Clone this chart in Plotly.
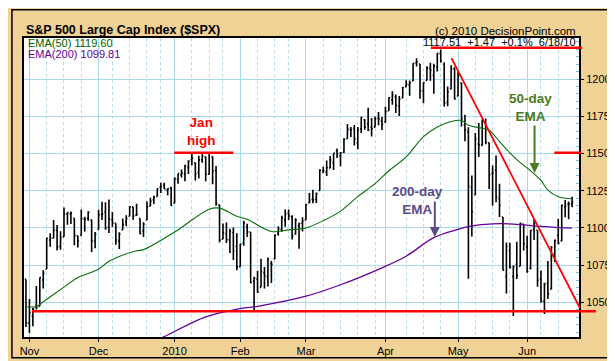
import plotly.graph_objects as go
import pandas as pd

# ---------------- data ----------------
holidays = ["2009-11-26", "2009-12-25", "2010-01-01", "2010-01-18",
            "2010-02-15", "2010-04-02", "2010-05-31"]
dates = [d for d in pd.bdate_range("2009-10-30", "2010-06-18")
         if d.strftime("%Y-%m-%d") not in holidays]

opens = [1065.41,
    1036.18, 1040.92, 1047.30, 1047.30, 1064.95, 1072.31, 1091.86, 1093.01, 1098.31, 1087.59,
    1094.13, 1109.22, 1109.44, 1106.44, 1094.66, 1094.86, 1105.83, 1106.49, 1105.47, 1091.07,
    1098.89, 1109.03, 1110.59, 1100.43, 1105.52, 1103.04, 1091.07, 1098.69, 1103.96, 1107.84,
    1114.11, 1108.61, 1106.36, 1097.86, 1105.31, 1114.51, 1118.84, 1121.08, 1127.53, 1128.55,
    1125.53, 1126.60,
    1116.56, 1132.66, 1135.71, 1136.27, 1140.52, 1145.96, 1143.81, 1137.31, 1145.68, 1147.72,
    1136.03, 1147.95, 1138.68, 1115.49, 1092.40, 1095.80, 1091.94, 1096.93, 1087.61,
    1073.89, 1090.05, 1100.67, 1097.25, 1064.12, 1065.51, 1060.06, 1069.68, 1067.10, 1075.95,
    1079.13, 1096.14, 1099.03, 1105.49, 1110.00, 1107.49, 1095.89, 1101.24, 1103.10,
    1105.36, 1117.01, 1119.36, 1119.12, 1125.12, 1138.40, 1137.56, 1140.22, 1143.96, 1151.71,
    1148.53, 1150.83, 1159.94, 1166.13, 1166.68, 1157.25, 1166.47, 1172.70, 1170.03, 1167.58,
    1167.71, 1173.75, 1171.75,
    1171.23, 1178.71, 1186.01, 1188.23, 1181.75, 1187.47, 1194.94, 1195.94, 1198.69, 1210.77,
    1210.17, 1192.06, 1199.04, 1207.16, 1202.52, 1207.87, 1217.07, 1209.92, 1184.59, 1193.30,
    1206.77,
    1188.58, 1197.50, 1169.24, 1164.38, 1127.04, 1122.27, 1156.39, 1155.43, 1170.04, 1157.19,
    1136.52, 1138.78, 1119.57, 1107.34, 1067.26, 1084.78, 1067.42, 1075.51, 1074.27, 1102.59,
    1087.30, 1073.01, 1098.82, 1098.43, 1065.84, 1050.81, 1062.75, 1058.77, 1082.65, 1095.00,
    1091.21, 1114.02, 1115.98, 1116.16]

highs = [1065.41,
    1052.18, 1046.36, 1061.00, 1066.65, 1071.48, 1093.19, 1096.42, 1105.37, 1101.97, 1097.79,
    1113.69, 1110.52, 1111.10, 1106.44, 1094.66, 1112.38, 1107.56, 1111.18, 1105.47, 1097.24,
    1112.28, 1117.58, 1117.28, 1119.13, 1110.72, 1103.04, 1097.04, 1106.25, 1108.50, 1114.76,
    1114.11, 1116.21, 1106.36, 1103.74, 1117.68, 1120.27, 1121.58, 1126.48, 1130.38, 1130.38,
    1126.42, 1127.64,
    1133.87, 1136.63, 1139.19, 1142.46, 1145.39, 1149.74, 1143.81, 1148.40, 1150.41, 1147.77,
    1150.45, 1147.95, 1141.58, 1115.49, 1102.97, 1103.69, 1099.51, 1100.22, 1096.45,
    1089.38, 1104.73, 1102.72, 1097.25, 1067.13, 1071.20, 1079.28, 1073.67, 1080.04, 1077.81,
    1095.67, 1101.03, 1108.24, 1112.42, 1112.29, 1108.58, 1106.42, 1103.50, 1107.24,
    1116.11, 1123.46, 1125.64, 1123.73, 1139.38, 1141.05, 1145.37, 1148.26, 1150.24, 1153.41,
    1150.98, 1160.28, 1169.84, 1167.77, 1169.20, 1167.82, 1174.72, 1173.04, 1180.69, 1173.93,
    1174.85, 1177.83, 1174.56,
    1181.43, 1187.73, 1191.80, 1189.60, 1188.55, 1194.66, 1199.20, 1199.04, 1210.65, 1213.92,
    1210.17, 1197.87, 1208.58, 1210.99, 1210.27, 1217.28, 1219.80, 1211.38, 1195.05, 1209.36,
    1207.99,
    1205.13, 1197.50, 1175.95, 1167.58, 1135.13, 1163.85, 1170.48, 1172.87, 1173.57, 1157.19,
    1141.88, 1148.66, 1129.63, 1107.34, 1090.16, 1089.95, 1074.75, 1090.75, 1103.52, 1102.59,
    1094.77, 1098.56, 1105.67, 1098.43, 1071.36, 1063.15, 1077.74, 1087.85, 1092.25, 1105.91,
    1115.59, 1118.74, 1117.72, 1121.01]

lows = [1033.38,
    1029.38, 1033.94, 1045.15, 1047.30, 1059.32, 1072.31, 1087.40, 1093.01, 1084.90, 1085.33,
    1094.13, 1102.19, 1102.70, 1088.40, 1086.81, 1094.86, 1097.63, 1104.75, 1083.74, 1086.25,
    1098.89, 1105.29, 1098.74, 1096.52, 1100.83, 1088.61, 1085.89, 1098.69, 1101.34, 1107.84,
    1105.35, 1107.96, 1095.88, 1093.88, 1105.31, 1114.51, 1116.00, 1121.08, 1123.51, 1126.08,
    1121.94, 1114.81,
    1116.56, 1129.66, 1133.95, 1131.32, 1136.22, 1142.02, 1131.77, 1133.18, 1143.80, 1131.39,
    1135.77, 1129.25, 1114.84, 1090.18, 1092.40, 1089.86, 1083.11, 1078.46, 1071.59,
    1073.89, 1087.96, 1093.97, 1062.78, 1044.50, 1056.51, 1060.06, 1059.34, 1060.59, 1062.97,
    1079.13, 1094.72, 1097.48, 1100.80, 1105.38, 1092.18, 1095.50, 1086.02, 1097.56,
    1105.36, 1116.51, 1116.58, 1116.66, 1125.12, 1136.77, 1134.90, 1140.09, 1138.99, 1146.97,
    1141.45, 1150.35, 1159.94, 1161.16, 1155.33, 1152.88, 1163.83, 1166.01, 1165.09, 1161.48,
    1167.71, 1168.92, 1165.77,
    1170.69, 1178.71, 1182.77, 1177.25, 1175.12, 1187.15, 1194.71, 1188.82, 1198.69, 1208.50,
    1186.77, 1183.68, 1199.04, 1198.85, 1190.19, 1205.10, 1211.07, 1181.62, 1181.81, 1193.30,
    1186.32,
    1188.58, 1168.12, 1158.15, 1065.79, 1094.15, 1122.27, 1147.71, 1155.43, 1156.14, 1126.14,
    1114.96, 1117.20, 1107.34, 1071.58, 1055.90, 1072.70, 1040.78, 1065.59, 1074.27, 1084.78,
    1069.89, 1072.03, 1091.81, 1060.50, 1049.86, 1042.17, 1052.25, 1058.77, 1077.12, 1089.03,
    1091.21, 1107.13, 1105.87, 1113.93]

closes = [1036.19,
    1042.88, 1045.41, 1046.50, 1066.63, 1069.30, 1093.08, 1093.01, 1098.51, 1087.24, 1093.48,
    1109.30, 1110.32, 1109.80, 1094.90, 1091.38, 1106.24, 1105.65, 1110.63, 1091.49, 1095.63,
    1108.86, 1109.24, 1099.92, 1105.98, 1103.25, 1091.94, 1095.95, 1102.35, 1106.41, 1114.11,
    1107.93, 1109.18, 1096.08, 1102.47, 1114.05, 1118.02, 1120.59, 1126.48, 1127.78, 1126.20,
    1126.42, 1115.10,
    1132.99, 1136.52, 1137.14, 1141.69, 1144.98, 1146.98, 1136.22, 1145.68, 1148.46, 1136.03,
    1150.23, 1138.04, 1116.48, 1091.76, 1096.78, 1092.17, 1097.50, 1084.53, 1073.87,
    1089.19, 1103.32, 1097.28, 1063.11, 1066.19, 1056.74, 1070.52, 1068.13, 1078.47, 1075.51,
    1094.87, 1099.51, 1106.75, 1109.17, 1108.01, 1094.60, 1105.24, 1102.94, 1104.49,
    1115.71, 1118.31, 1118.79, 1122.97, 1138.70, 1138.50, 1140.45, 1145.61, 1150.24, 1149.99,
    1150.51, 1159.46, 1166.21, 1165.83, 1159.90, 1165.81, 1174.17, 1167.72, 1165.73, 1166.59,
    1173.22, 1173.27, 1169.43,
    1178.10, 1187.44, 1189.44, 1182.45, 1186.44, 1194.37, 1196.48, 1197.30, 1210.65, 1211.67,
    1192.13, 1197.52, 1207.17, 1205.94, 1208.67, 1217.28, 1212.05, 1183.71, 1191.36, 1206.78,
    1186.69,
    1202.26, 1173.60, 1165.87, 1128.15, 1110.88, 1159.73, 1155.79, 1171.67, 1157.44, 1135.68,
    1136.94, 1120.80, 1115.05, 1071.59, 1087.69, 1073.65, 1074.03, 1067.95, 1103.06, 1089.41,
    1070.71, 1098.38, 1102.83, 1064.88, 1050.47, 1062.00, 1055.69, 1086.84, 1091.60, 1089.63,
    1115.23, 1114.61, 1116.04, 1117.51]

# EMA values at selected trading-day positions (Nov 2, 2009 = 0)
ema50_pos = [-1, 2, 4, 10, 14, 20, 23, 31, 33, 42, 52, 55, 60, 63, 70, 75, 80, 85, 90, 95,
             100, 104, 109, 114, 118, 122, 125, 127, 130, 133, 136, 139, 142, 145, 148, 150,
             153, 157]
ema50_val = [1047.0, 1047.2, 1050.4, 1060.2, 1066.7, 1072.2, 1077.6, 1084.6, 1085.4, 1097.2,
             1112.6, 1113.3, 1107.8, 1105.8, 1097.6, 1098.7, 1100.0, 1104.8, 1111.3, 1121.0,
             1129.8, 1138.4, 1147.7, 1161.3, 1167.8, 1171.5, 1172.2, 1169.0, 1167.4, 1165.6,
             1158.0, 1150.4, 1143.9, 1138.4, 1131.9, 1125.4, 1121.0, 1119.6]

ema200_pos = [37, 39, 51, 60, 66, 80, 90, 102, 109, 117, 124, 128, 134, 140, 147, 152, 157]
ema200_val = [1024.8, 1026.9, 1040.2, 1045.4, 1047.3, 1054.1, 1061.8, 1073.2, 1081.0, 1093.5,
              1099.0, 1101.3, 1102.7, 1102.6, 1101.2, 1100.3, 1099.8]

month_labels = ["Nov", "Dec", "2010", "Feb", "Mar", "Apr", "May", "Jun"]
y_ticks = [1050, 1075, 1100, 1125, 1150, 1175, 1200]

last_info = "1117.51\u00a0\u00a0+1.47\u00a0\u00a0+0.1%\u00a0\u00a06/18/10"
ema50_label = "EMA(50) 1119.60"
ema200_label = "EMA(200) 1099.81"

jan_high = 1150.5
support = 1044.0
trend_start = (122.1, 1214.1)
trend_end = (159.3, 1046.0)

# ---------------- positions ----------------
xs = list(range(-1, len(dates) - 1))
month_pos, week_pos = [], []
prev = None
for i, d in zip(xs, dates):
    if d.month != (prev.month if prev is not None else None) and i >= 0:
        month_pos.append(i)
    prev = d
prev = None
for i, d in zip(xs, dates):
    if i >= 0 and (prev is None or d.isocalendar()[1] != prev.isocalendar()[1]):
        if all(abs(i - m) > 2 for m in month_pos):
            week_pos.append(i)
    prev = d

X0, X1 = -1.57, 159.0
Y0, Y1 = 1026.7, 1227.6
W, H = 615, 361
L, R, T, B = 13, 575, 30, 338

def px(x):
    return (x - L) / (R - L)

def py(y):
    return (B - y) / (B - T)

def ix(i):
    return (i - X0) / (X1 - X0)

def vy(v):
    return (v - Y0) / (Y1 - Y0)

BG = "#F0D296"
GRID = "#A9D9EC"
FONT = "Liberation Sans, Arial, sans-serif"

fig = go.Figure()
fig.add_trace(go.Ohlc(
    x=xs, open=opens, high=highs, low=lows, close=closes,
    increasing=dict(line=dict(color="black", width=1.6)),
    decreasing=dict(line=dict(color="black", width=1.6)),
    tickwidth=0.35, hoverinfo="skip", showlegend=False))
fig.add_trace(go.Scatter(x=ema50_pos, y=ema50_val, mode="lines",
                         line=dict(color="#0A6E0A", width=1.1, shape="spline"),
                         hoverinfo="skip", showlegend=False))
fig.add_trace(go.Scatter(x=ema200_pos, y=ema200_val, mode="lines",
                         line=dict(color="#660099", width=1.3, shape="spline"),
                         hoverinfo="skip", showlegend=False))

fig.update_layout(
    width=W, height=H,
    margin=dict(l=L, r=W - R, t=T, b=H - B),
    paper_bgcolor=BG, plot_bgcolor="white",
    font=dict(family=FONT, size=11, color="black"),
    showlegend=False,
    xaxis=dict(range=[X0, X1], tickmode="array", tickvals=month_pos, ticktext=month_labels,
               ticks="outside", ticklen=3, tickcolor="black",
               showgrid=True, gridcolor=GRID, gridwidth=1,
               minor=dict(tickmode="array", tickvals=week_pos, showgrid=True,
                          gridcolor="#B5DDEE", griddash="dot", gridwidth=1, ticks=""),
               showline=True, linecolor="black", linewidth=2, mirror=True,
               zeroline=False, rangeslider=dict(visible=False), fixedrange=True,
               tickfont=dict(size=11)),
    yaxis=dict(range=[Y0, Y1], side="right", tickmode="array", tickvals=y_ticks,
               ticks="outside", ticklen=3, tickcolor="black",
               showgrid=True, gridcolor=GRID, gridwidth=1,
               minor=dict(dtick=5, tick0=0, ticks="inside", ticklen=3,
                          tickcolor="#7FBCD8", showgrid=False),
               showline=True, linecolor="black", linewidth=2, mirror=True,
               zeroline=False, fixedrange=True, tickfont=dict(size=11)),
)

red = "#FF0000"
shapes = [
    # support line (extends past plot)
    dict(type="line", xref="paper", yref="paper", x0=ix(0.7), x1=px(592),
         y0=vy(support), y1=vy(support), line=dict(color=red, width=2.5)),
    # Jan high line
    dict(type="line", xref="paper", yref="paper", x0=ix(41.9), x1=ix(59.0),
         y0=vy(jan_high), y1=vy(jan_high), line=dict(color=red, width=2.5)),
    # right 1150 marker
    dict(type="line", xref="paper", yref="paper", x0=px(550), x1=px(577),
         y0=vy(jan_high), y1=vy(jan_high), line=dict(color=red, width=2.5)),
    # top line under last value
    dict(type="line", xref="paper", yref="paper", x0=px(425), x1=px(578),
         y0=py(40), y1=py(40), line=dict(color=red, width=2.5)),
    # down trend line
    dict(type="line", xref="paper", yref="paper", x0=ix(trend_start[0]), x1=ix(trend_end[0]),
         y0=vy(trend_start[1]), y1=vy(trend_end[1]), line=dict(color=red, width=1.8)),
    # outer frame
    dict(type="rect", xref="paper", yref="paper", x0=px(0.8), x1=px(613.5),
         y0=py(0.8), y1=py(359.5), line=dict(color="black", width=1.5)),
]
fig.update_layout(shapes=shapes)

def txt(x, y, text, size=11, color="black", xanchor="left", bold=False):
    if bold:
        text = "<b>" + text + "</b>"
    return dict(x=px(x), y=py(y), xref="paper", yref="paper", text=text,
                showarrow=False, xanchor=xanchor, yanchor="middle",
                font=dict(size=size, color=color, family=FONT))

annotations = [
    txt(13, 21.5, "S&amp;P 500 Large Cap Index ($SPX)", size=12.5, bold=True),
    txt(574, 23, "(c) 2010 DecisionPoint.com", size=11.5, xanchor="right"),
    txt(15, 35, ema50_label, size=11, color="#006400"),
    txt(15, 46.5, ema200_label, size=11, color="#660099"),
    txt(574, 34.5, last_info, size=11, xanchor="right"),
    txt(192.5, 126, "Jan<br>high", size=13.5, color=red, xanchor="center", bold=True),
    txt(525.5, 102, "50-day<br>EMA", size=13.5, color="#4A7A22", xanchor="center", bold=True),
    txt(411, 197, "200-day<br>EMA", size=13.5, color="#5B4B8A", xanchor="center", bold=True),
    dict(x=px(530), y=py(169), xref="paper", yref="paper", text="", showarrow=True,
         ax=0, ay=-49, arrowhead=2, arrowsize=1, arrowwidth=2, arrowcolor="#4A7A22",
         standoff=0),
    dict(x=px(429), y=py(235), xref="paper", yref="paper", text="", showarrow=True,
         ax=0, ay=-37, arrowhead=2, arrowsize=1, arrowwidth=2, arrowcolor="#5B4B8A",
         standoff=0),
]
fig.update_layout(annotations=annotations)

fig.write_html("out.html")
